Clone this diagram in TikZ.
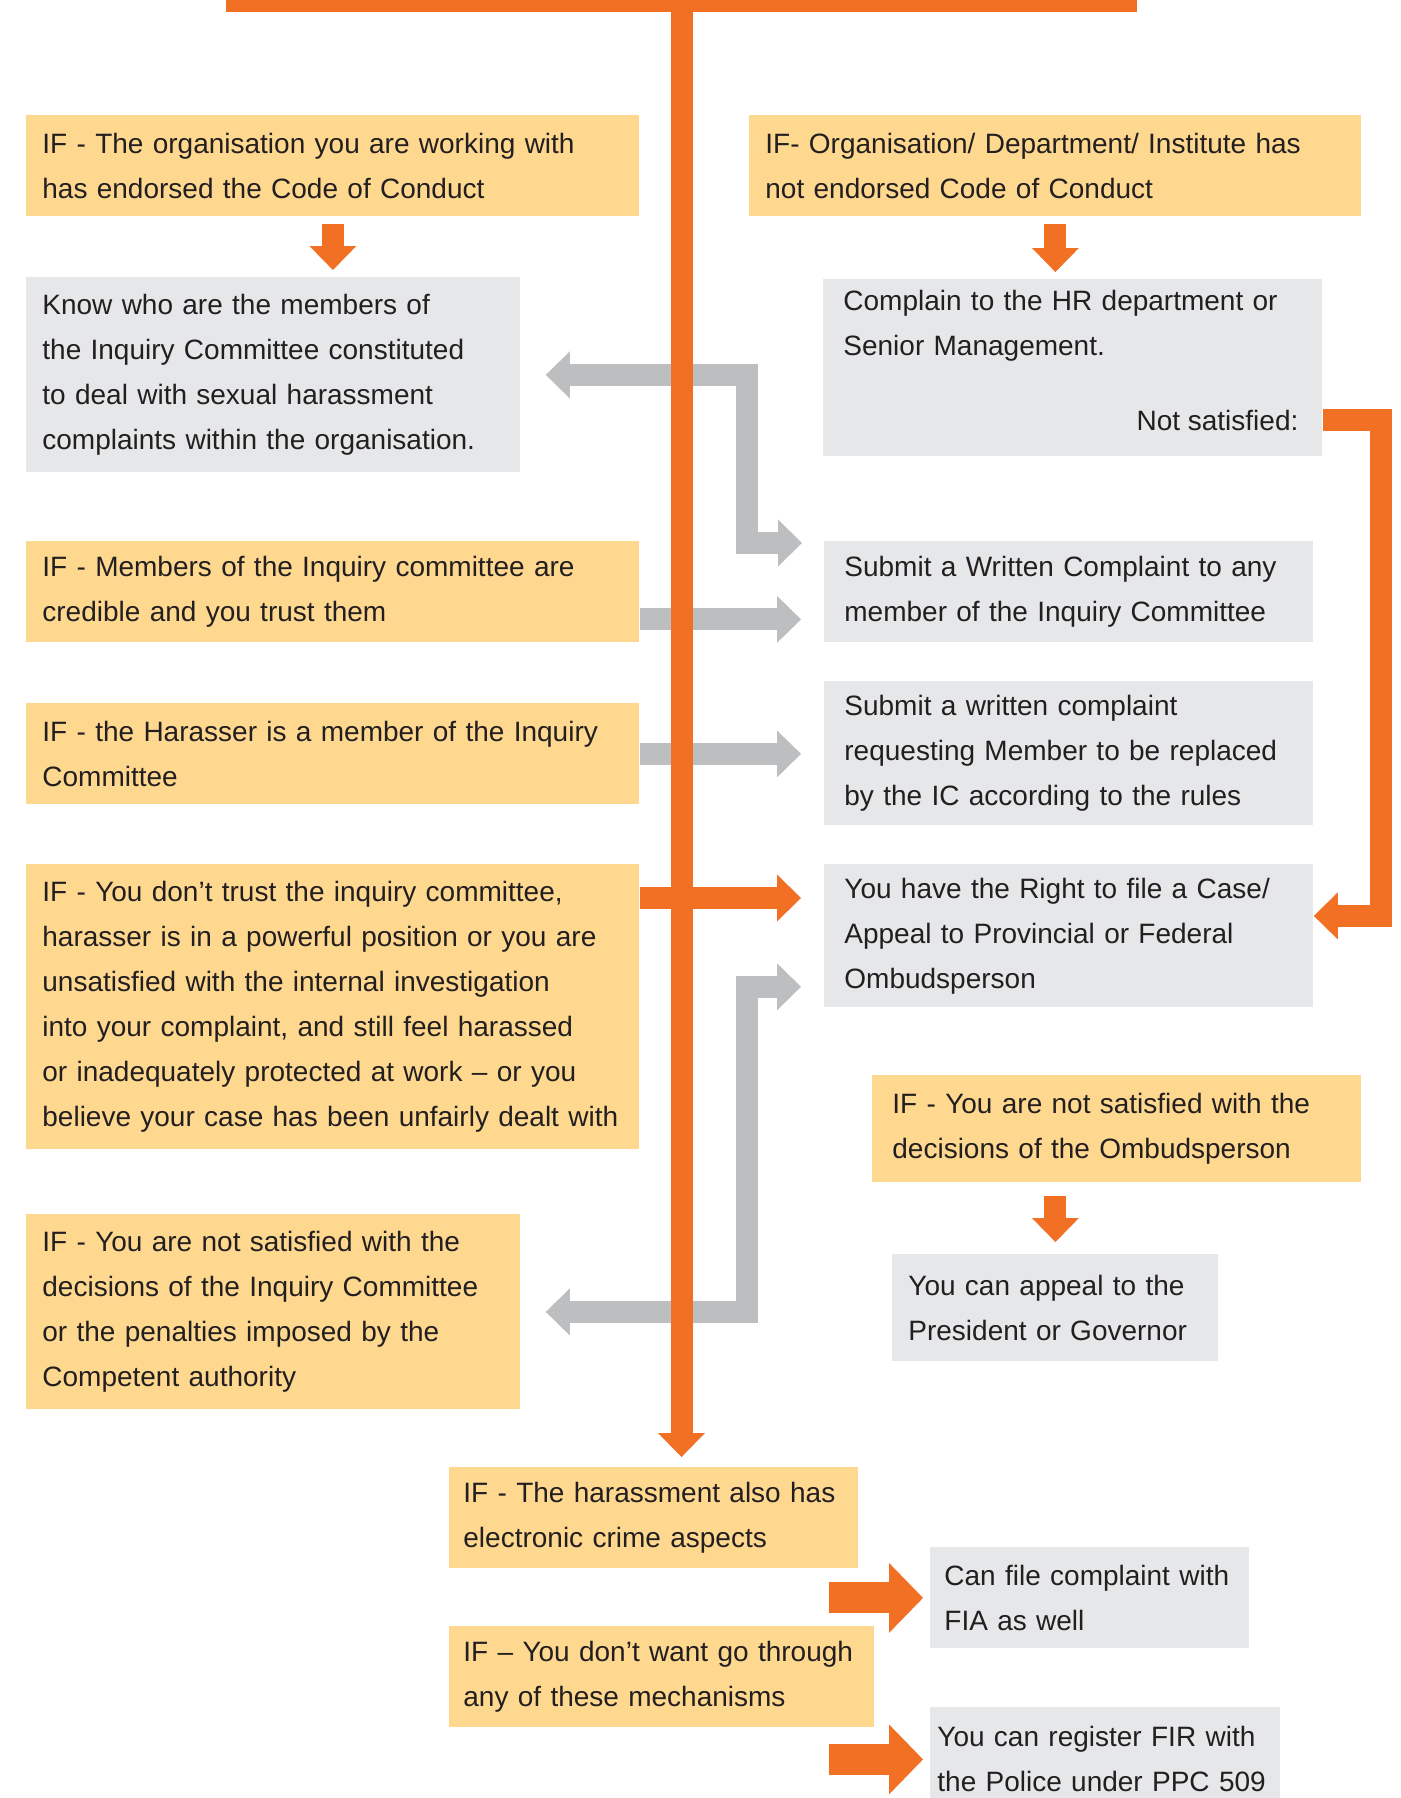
\documentclass[tikz,border=0pt]{standalone}
\usepackage{fontspec}
\setmainfont{Liberation Sans}
\usepackage{tikz}
\usetikzlibrary{arrows.meta, positioning, calc}

\definecolor{ifyellow}{RGB}{254,216,143}
\definecolor{boxgrey}{RGB}{230,231,232}
\definecolor{arrowgrey}{RGB}{188,190,192}
\definecolor{floworange}{RGB}{242,112,36}
\definecolor{ink}{RGB}{35,31,32}

\tikzset{
    box/.style args={#1 #2}{
        rectangle, anchor=north west, inner xsep=8pt, inner ysep=0pt,
        align=left, text width=#1, minimum height=#2, text=ink,
        font=\fontsize{14}{22.5}\selectfont
    },
    ifbox/.style args={#1 #2}{box={#1 #2}, fill=ifyellow},
    dobox/.style args={#1 #2}{box={#1 #2}, fill=boxgrey},
    orangearrow/.style={draw=floworange, line width=11pt,
        -{Triangle[length=12pt, width=23.5pt, line width=0pt]}},
    greyarrow/.style={draw=arrowgrey, line width=11pt,
        -{Triangle[length=12pt, width=23.5pt, line width=0pt]}},
    greyboth/.style={draw=arrowgrey, line width=11pt,
        {Triangle[length=12pt, width=23.5pt, line width=0pt]}-{Triangle[length=12pt, width=23.5pt, line width=0pt]}},
    bigarrow/.style={draw=floworange, line width=15.5pt,
        -{Triangle[length=17pt, width=35pt, line width=0pt]}}
}

\begin{document}
\begin{tikzpicture}[x=0.5pt, y=-0.5pt]
    \useasboundingbox (0,0) rectangle (1401,1798);
    \node[fill=floworange, inner sep=0pt, minimum width=455.5pt, minimum height=6pt] (trunk) at (681.5,6) {};
    % left column
    \node[ifbox={290.5pt 50.5pt}] (A) at (26,115) {IF - The organisation you are working with\\has endorsed the Code of Conduct};
    \node[dobox={231pt 97.5pt}] (C) at (26,277) {Know who are the members of\\the Inquiry Committee constituted\\to deal with sexual harassment\\complaints within the organisation.};
    \node[ifbox={290.5pt 50.5pt}] (E) at (26,541) {IF - Members of the Inquiry committee are\\credible and you trust them};
    \node[ifbox={290.5pt 50.5pt}] (G) at (26,703) {IF - the Harasser is a member of the Inquiry\\Committee};
    \node[ifbox={290.5pt 142.5pt}] (I) at (26,864) {IF - You don’t trust the inquiry committee,\\harasser is in a powerful position or you are\\unsatisfied with the internal investigation\\into your complaint, and still feel harassed\\or inadequately protected at work – or you\\believe your case has been unfairly dealt with};
    \node[ifbox={231pt 97.5pt}] (M) at (26,1214) {IF - You are not satisfied with the\\decisions of the Inquiry Committee\\or the penalties imposed by the\\Competent authority};
    % right column
    \node[ifbox={290pt 50.5pt}] (B) at (749,115) {IF- Organisation/ Department/ Institute has\\not endorsed Code of Conduct};
    \node[dobox={229.5pt 88.5pt}, inner xsep=10pt] (D) at (823,279) {Complain to the HR department or\\Senior Management.\\\mbox{}\\\mbox{}};
    \node[anchor=east, inner sep=0pt, text=ink, font=\fontsize{14}{22.5}\selectfont] (ns) at ([xshift=-12pt, yshift=-26.25pt]D.east) {Not satisfied:};
    \node[dobox={224.5pt 50.5pt}, inner xsep=10pt] (F) at (824,541) {Submit a Written Complaint to any\\member of the Inquiry Committee};
    \node[dobox={224.5pt 72pt}, inner xsep=10pt] (H) at (824,681) {Submit a written complaint\\requesting Member to be replaced\\by the IC according to the rules};
    \node[dobox={224.5pt 71.5pt}, inner xsep=10pt] (J) at (824,864) {You have the Right to file a Case/\\Appeal to Provincial or Federal\\Ombudsperson};
    \node[ifbox={224.5pt 53.5pt}, inner xsep=10pt] (K) at (872,1075) {IF - You are not satisfied with the\\decisions of the Ombudsperson};
    \node[dobox={147pt 53.5pt}] (L) at (892,1254) {You can appeal to the\\President or Governor};
    % bottom
    \node[ifbox={190.5pt 50.5pt}, inner xsep=7pt] (N) at (449,1467) {IF - The harassment also has\\electronic crime aspects};
    \node[ifbox={198.5pt 50.5pt}, inner xsep=7pt] (O) at (449,1626) {IF – You don’t want go through\\any of these mechanisms};
    \node[dobox={145.5pt 50.5pt}, inner xsep=7pt] (P) at (930,1547) {Can file complaint with\\FIA as well};
    \node[dobox={168pt 52pt}, inner xsep=3.5pt] (Q) at (930,1707) {You can register FIR with\\the Police under PPC 509};
    \coordinate (Ir) at ([yshift=-17pt]J.north west);

    \draw[orangearrow, shorten <=3.5pt, shorten >=3.5pt] (A.south) -- (A.south |- C.north);
    \draw[orangearrow, shorten <=3.5pt, shorten >=3.5pt] (B.south) -- (B.south |- D.north);
    \draw[orangearrow, shorten <=6.5pt, shorten >=6pt] (L.north |- K.south) -- (L.north);
    \draw[greyboth, shorten <=12.5pt, shorten >=11pt] (C.east) -- ++(226,0) |- ([yshift=-1pt]F.north west);
    \draw[greyarrow, shorten >=11.5pt] ([yshift=-13.75pt]E.east) -- ([yshift=-13.75pt]F.west);
    \draw[greyarrow, shorten >=11.5pt] (G.east) -- (G.east -| H.west);
    \draw[greyboth, shorten <=12.5pt, shorten >=11.5pt] (M.east) -- ++(226,0) |- ([yshift=10.5pt]J.south west);
    \draw[orangearrow, shorten >=5pt] (trunk.north) -- (trunk.north |- N.north);
    \draw[orangearrow, shorten >=11.5pt] (I.east |- Ir) -- (Ir);
    \draw[orangearrow] (D.east |- ns.east) -- ++(58,0) |- ([yshift=10pt]J.east);
    \draw[bigarrow, shorten >=3.5pt] ([xshift=-50.5pt]P.west) -- (P.west);
    \draw[bigarrow, shorten >=3.5pt] ([xshift=-50.5pt]Q.west) -- (Q.west);
\end{tikzpicture}
\end{document}
